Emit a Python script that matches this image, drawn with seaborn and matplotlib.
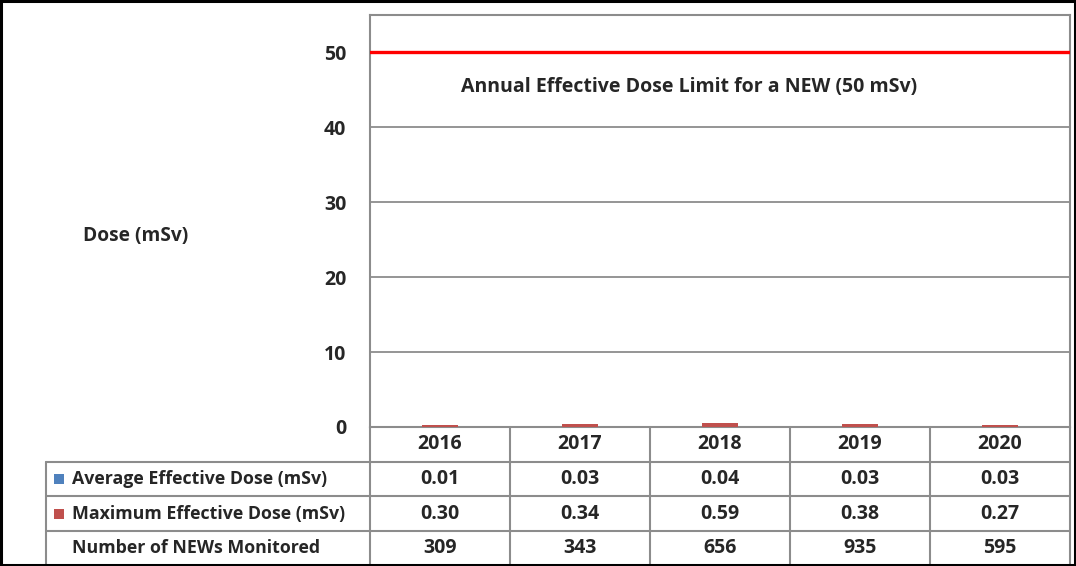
import pandas as pd
import seaborn as sns
import matplotlib.pyplot as plt
import matplotlib.transforms as mtransforms
from matplotlib.patches import Rectangle

years = ["2016", "2017", "2018", "2019", "2020"]
avg_dose = [0.01, 0.03, 0.04, 0.03, 0.03]
max_dose = [0.30, 0.34, 0.59, 0.38, 0.27]
news_monitored = [309, 343, 656, 935, 595]
dose_limit = 50
series_names = ["Average Effective Dose (mSv)", "Maximum Effective Dose (mSv)", "Number of NEWs Monitored"]
series_colors = ["#4F81BD", "#C0504D", "#9BBB59"]

W, H = 1076, 566
FS_NUM = 14
FS_TXT = 12.8
sns.set_theme(style="white")
plt.rcParams['font.family'] = ['Open Sans', 'DejaVu Sans']
plt.rcParams['font.weight'] = 'bold'

df = pd.DataFrame({
    "Year": years * 2,
    "Dose": avg_dose + max_dose,
    "Series": [series_names[0]] * len(years) + [series_names[1]] * len(years),
})

fig = plt.figure(figsize=(W / 100, H / 100), dpi=100)
ax = fig.add_axes([370 / W, 139 / H, 700 / W, 412 / H])

# third (table-only) series keeps the Excel cluster spacing
sns.barplot(data=df, x="Year", y="Dose", hue="Series", hue_order=series_names,
            palette=series_colors, width=0.77, ax=ax, legend=False, saturation=1)
# tiny bars sit on top of the bottom spine like in Excel
for p in ax.patches:
    p.set_zorder(3)
    p.set_linewidth(0)

ax.axhline(dose_limit, color="#FF0000", lw=2.4, zorder=5)
ax.text(1.78, 45.4, "Annual Effective Dose Limit for a NEW (50 mSv)", ha="center", va="center",
        fontsize=14, fontweight="bold")

ax.set_xlim(-0.5, 4.5)
ax.set_ylim(0, 55)
ax.set_yticks(range(0, 51, 10))
ax.set_yticks(range(0, 55, 2), minor=True)
ax.yaxis.grid(True, color="#8C8C8C", lw=1.3)
ax.set_axisbelow(True)
ax.tick_params(axis="y", which="major", direction="out", length=6, width=1.2, color="#8C8C8C",
               labelsize=FS_NUM, pad=11)
ax.tick_params(axis="y", which="minor", direction="in", length=3, width=1.2, color="#8C8C8C")
ax.set_xticks([])
ax.set_xlabel("")
ax.set_ylabel("")
for lab in ax.get_yticklabels():
    lab.set_fontweight("bold")
for sp in ax.spines.values():
    sp.set_color("#8C8C8C")
    sp.set_linewidth(1.5)
    sp.set_visible(True)

fig.text(135.5 / W, 1 - 236 / H, "Dose (mSv)", ha="center", va="center", fontsize=13.8, fontweight="bold")

# data table under the plot
row_h = 34.7 / 412
tr_data = mtransforms.blended_transform_factory(ax.transData, ax.transAxes)
tr_fig = mtransforms.blended_transform_factory(fig.transFigure, ax.transAxes)
grid_kw = dict(color="#8C8C8C", lw=1.5, clip_on=False)

for i in range(1, 5):
    y = -i * row_h
    ax.plot([-0.5, 4.5], [y, y], transform=tr_data, **grid_kw)
    ax.plot([46 / W, 370 / W], [y, y], transform=tr_fig, **grid_kw)
for k in range(len(years) + 1):
    ax.plot([k - 0.5, k - 0.5], [0, -4 * row_h], transform=tr_data, **grid_kw)
ax.plot([46 / W, 46 / W], [-row_h, -4 * row_h], transform=tr_fig, **grid_kw)

rows = [years, [f"{v:.2f}" for v in avg_dose], [f"{v:.2f}" for v in max_dose],
        [str(v) for v in news_monitored]]
for r, vals in enumerate(rows):
    for k, txt in enumerate(vals):
        ax.text(k, -(r + 0.5) * row_h, txt, transform=tr_data, ha="center", va="center",
                fontsize=FS_NUM, fontweight="bold")

for r, name in enumerate(series_names):
    yc = 1 - (427 + (r + 1.5) * 34.7) / H
    ax.text(72 / W, -(r + 1.5) * row_h, name, transform=tr_fig, ha="left", va="center",
            fontsize=FS_TXT, fontweight="bold")
    if r < 2:
        fig.patches.append(Rectangle((54 / W, yc - 5 / H), 10 / W, 10 / H, transform=fig.transFigure,
                                     facecolor=series_colors[r], edgecolor="none"))

# outer chart border
fig.patches.append(Rectangle((1 / W, 1 / H), (W - 2) / W, (H - 2) / H, transform=fig.transFigure,
                             fill=False, edgecolor="black", lw=2.2))

fig.savefig("out.png", dpi=100)
